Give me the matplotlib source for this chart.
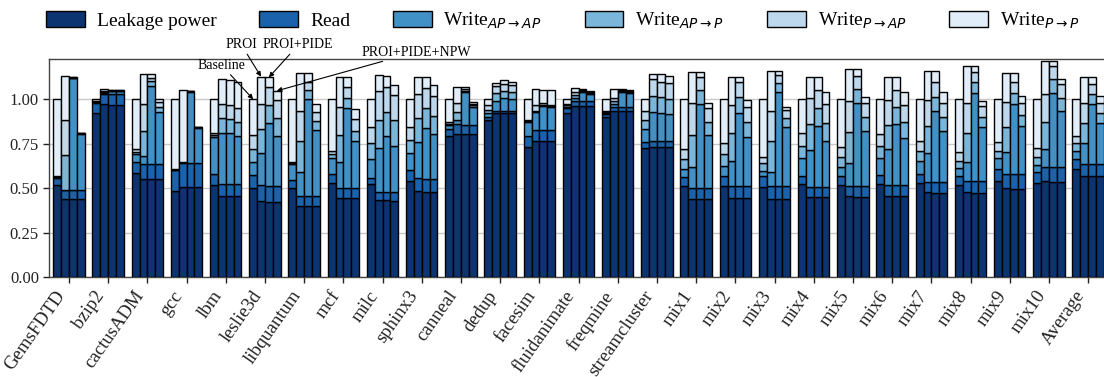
import matplotlib
matplotlib.use('Agg')
import matplotlib.pyplot as plt
from matplotlib.patches import Patch
import numpy as np

plt.rcParams['font.family'] = ['Liberation Serif', 'DejaVu Serif']

benchmarks = ['GemsFDTD', 'bzip2', 'cactusADM', 'gcc', 'lbm', 'leslie3d', 'libquantum',
              'mcf', 'milc', 'sphinx3', 'canneal', 'dedup', 'facesim', 'fluidanimate',
              'freqmine', 'streamcluster', 'mix1', 'mix2', 'mix3', 'mix4', 'mix5', 'mix6',
              'mix7', 'mix8', 'mix9', 'mix10', 'Average']
configs = ['Baseline', 'PROI', 'PROI+PIDE', 'PROI+PIDE+NPW']
components = ['Leakage power', 'Read', r'Write$_{AP\rightarrow AP}$', r'Write$_{AP\rightarrow P}$',
              r'Write$_{P\rightarrow AP}$', r'Write$_{P\rightarrow P}$']

# one row per benchmark, columns = Baseline, PROI, PROI+PIDE, PROI+PIDE+NPW
leakage = [
    [.521, .438, .438, .438], [.925, .974, .970, .970], [.585, .552, .550, .550],
    [.485, .509, .509, .509], [.519, .458, .458, .458], [.500, .429, .425, .425],
    [.504, .402, .402, .402], [.528, .447, .447, .447], [.522, .434, .434, .430],
    [.543, .485, .481, .481], [.794, .805, .805, .805], [.884, .920, .920, .920],
    [.734, .765, .765, .765], [.925, .964, .964, .964], [.898, .936, .936, .936],
    [.728, .734, .734, .734], [.515, .440, .440, .440], [.513, .443, .443, .443],
    [.509, .440, .440, .440], [.522, .453, .453, .453], [.519, .457, .453, .453],
    [.522, .458, .458, .458], [.528, .477, .472, .472], [.519, .477, .472, .472],
    [.541, .500, .496, .496], [.528, .541, .537, .537], [.608, .571, .571, .571]]
read = [
    [.035, .052, .052, .052], [.052, .058, .058, .058], [.065, .085, .087, .087],
    [.118, .135, .135, .135], [.060, .064, .064, .064], [.075, .090, .088, .088],
    [.043, .055, .055, .055], [.051, .053, .053, .053], [.038, .047, .047, .047],
    [.060, .071, .071, .071], [.039, .054, .051, .051], [.015, .014, .014, .014],
    [.059, .063, .062, .062], [.024, .028, .028, .028], [.018, .023, .023, .023],
    [.030, .032, .032, .032], [.050, .060, .060, .060], [.058, .070, .070, .070],
    [.060, .075, .075, .075], [.047, .056, .056, .056], [.052, .058, .062, .062],
    [.053, .061, .061, .061], [.051, .060, .065, .065], [.052, .066, .071, .071],
    [.065, .080, .082, .082], [.065, .081, .085, .085], [.054, .065, .065, .065]]
write_ap_ap = [
    [.006, .003, .627, .315], [.005, .005, .018, .018], [.043, .046, .435, .294],
    [.002, .002, .398, .196], [.211, .290, .287, .272], [.074, .177, .352, .281],
    [.092, .136, .543, .371], [.093, .149, .453, .266], [.102, .244, .312, .261],
    [.094, .206, .289, .251], [.020, .027, .183, .098], [.022, .056, .075, .066],
    [.077, .100, .135, .127], [.008, .014, .047, .036], [.006, .014, .081, .078],
    [.075, .164, .155, .149], [.041, .117, .472, .299], [.056, .142, .408, .277],
    [.030, .078, .528, .331], [.103, .206, .340, .257], [.050, .129, .462, .309],
    [.097, .200, .342, .262], [.074, .163, .399, .285], [.041, .107, .490, .299],
    [.062, .126, .395, .271], [.038, .099, .415, .312], [.049, .117, .336, .229]]
write_ap_p = [
    [.005, .194, .003, .003], [.004, .004, .003, .003], [.013, .140, .028, .027],
    [.001, .001, .002, .002], [.009, .085, .080, .076], [.071, .137, .103, .099],
    [.005, .173, .052, .052], [.019, .151, .056, .058], [.090, .159, .138, .146],
    [.074, .135, .112, .105], [.010, .045, .009, .011], [.020, .043, .038, .039],
    [.006, .008, .007, .007], [.008, .018, .006, .007], [.006, .015, .005, .005],
    [.050, .090, .090, .085], [.056, .182, .080, .075], [.066, .157, .090, .084],
    [.041, .172, .047, .047], [.068, .144, .104, .103], [.057, .170, .081, .075],
    [.068, .137, .097, .093], [.056, .149, .079, .081], [.041, .162, .062, .061],
    [.043, .140, .064, .063], [.043, .153, .077, .075], [.045, .112, .056, .056]]
write_p_ap = [
    [.004, .196, .003, .002], [.004, .004, .002, .002], [.013, .149, .022, .029],
    [.001, .001, .002, .002], [.010, .075, .079, .083], [.079, .139, .099, .103],
    [.004, .168, .047, .047], [.019, .155, .062, .065], [.094, .163, .140, .140],
    [.075, .131, .112, .111], [.011, .046, .009, .011], [.027, .042, .038, .039],
    [.007, .030, .008, .008], [.007, .019, .006, .007], [.006, .018, .005, .005],
    [.051, .092, .088, .090], [.057, .178, .071, .075], [.063, .156, .084, .084],
    [.034, .171, .047, .047], [.069, .147, .099, .103], [.056, .176, .075, .078],
    [.063, .140, .094, .094], [.056, .149, .084, .078], [.049, .165, .060, .059],
    [.047, .137, .062, .065], [.054, .156, .073, .075], [.038, .112, .056, .056]]
write_p_p = [
    [.429, .249, .004, .002], [.010, .013, .003, .003], [.281, .170, .017, .013],
    [.393, .404, .002, .002], [.191, .142, .140, .142], [.201, .155, .056, .051],
    [.352, .212, .047, .046], [.290, .172, .052, .054], [.154, .090, .062, .056],
    [.154, .099, .058, .061], [.126, .094, .010, .011], [.032, .018, .024, .017],
    [.117, .090, .075, .085], [.028, .019, .007, .006], [.066, .052, .008, .005],
    [.066, .030, .041, .043], [.281, .174, .028, .028], [.244, .159, .032, .038],
    [.326, .225, .024, .018], [.191, .121, .075, .071], [.266, .178, .035, .034],
    [.197, .131, .071, .071], [.234, .161, .062, .058], [.298, .212, .032, .030],
    [.242, .163, .047, .043], [.272, .185, .028, .028], [.206, .150, .039, .042]]

colors = ['#0c3470', '#1a63ac', '#4191c6', '#7ab5da', '#bdd7ec', '#e1edf8']

series = [leakage, read, write_ap_ap, write_ap_p, write_p_ap, write_p_p]

fig = plt.figure(figsize=(11.04, 3.77), dpi=100)
ax = fig.add_axes([0.0447, 0.2645, 0.9587, 0.579])

x = np.arange(len(benchmarks))
width = 0.2
offsets = [-0.3, -0.1, 0.1, 0.3]

for j, off in enumerate(offsets):
    bottom = np.zeros(len(benchmarks))
    for s, c in zip(series, colors):
        vals = np.array([row[j] for row in s])
        ax.bar(x + off, vals, width, bottom=bottom, color=c, edgecolor='black',
               linewidth=1.0, zorder=3)
        bottom += vals

ax.set_xlim(-0.5, len(benchmarks) - 0.5)
ax.set_ylim(0, 1.226)
ax.set_yticks([0, 0.25, 0.5, 0.75, 1.0])
ax.set_yticklabels(['%.2f' % v for v in [0, 0.25, 0.5, 0.75, 1.0]], fontsize=12)
ax.set_xticks(x)
ax.set_xticklabels(benchmarks, rotation=55, ha='right', fontsize=13.5)
ax.tick_params(axis='both', direction='out', length=4, width=1, colors='#222222')
ax.yaxis.grid(True, color='#c8c8c8', linewidth=1.0, zorder=0)
ax.set_axisbelow(True)
for sp in ax.spines.values():
    sp.set_color('#444444')
    sp.set_linewidth(1.0)

# labels for the four bars of leslie3d
g = benchmarks.index('leslie3d')
tops = [sum(s[g][j] for s in series) for j in range(4)]
arrow = dict(arrowstyle='-|>', color='black', lw=0.8, mutation_scale=7, shrinkA=0, shrinkB=0)
ax.annotate('Baseline', xy=(g + offsets[0], tops[0]), xytext=(3.9, 1.19),
            ha='center', va='center', fontsize=10, arrowprops=arrow, annotation_clip=False)
ax.annotate('PROI', xy=(g + offsets[1], tops[1]), xytext=(4.4, 1.305),
            ha='center', va='center', fontsize=10, arrowprops=arrow, annotation_clip=False)
ax.annotate('PROI+PIDE', xy=(g + offsets[2], tops[2]), xytext=(5.85, 1.305),
            ha='center', va='center', fontsize=10, arrowprops=arrow, annotation_clip=False)
ax.annotate('PROI+PIDE+NPW', xy=(g + offsets[3], tops[3]), xytext=(8.85, 1.265),
            ha='center', va='center', fontsize=10, arrowprops=arrow, annotation_clip=False)

handles = [Patch(facecolor=c, edgecolor='black', linewidth=1.0) for c in colors]
fig.legend(handles, components, loc='center', bbox_to_anchor=(0.51, 0.945), ncol=6,
           frameon=False, fontsize=14, handlelength=2.0, handleheight=0.9,
           columnspacing=2.2, handletextpad=0.6)

fig.savefig('out.png', dpi=100)
